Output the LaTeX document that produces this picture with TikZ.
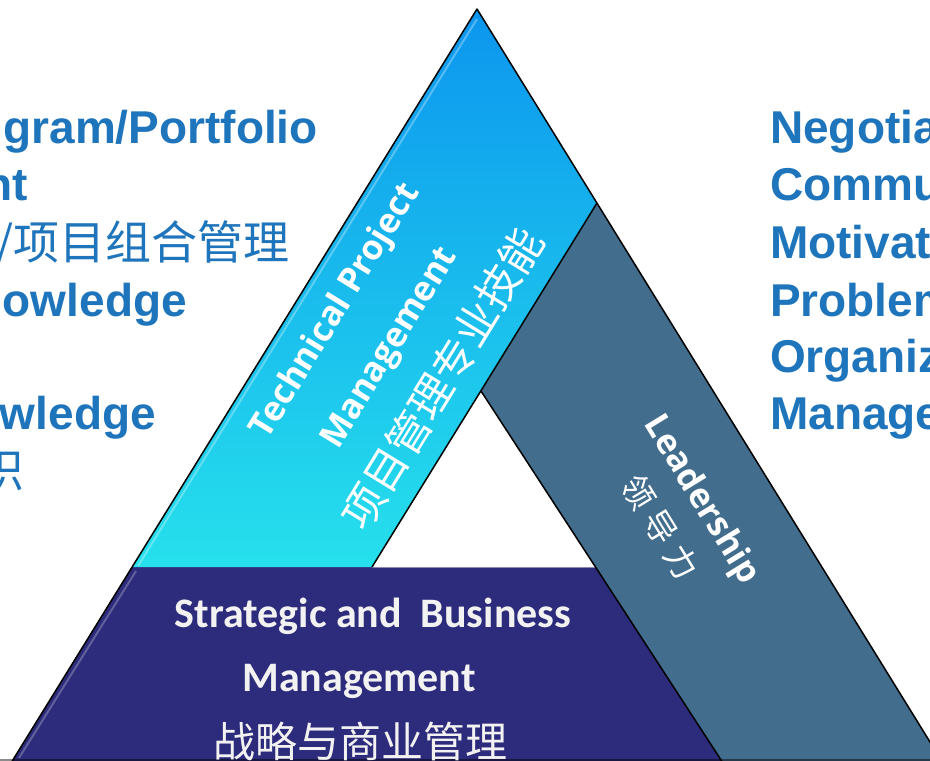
\documentclass[tikz,border=0pt]{standalone}
\usepackage{fontspec}
\newfontfamily\arialf{Liberation Sans}
\newfontfamily\osans{Open Sans}
\newfontfamily\calib{Carlito}
\newfontfamily\cjk{Noto Sans CJK SC}
\definecolor{pmblue}{RGB}{30,117,188}
\definecolor{navyband}{RGB}{45,43,123}
\definecolor{tealband}{RGB}{66,109,141}
\definecolor{cyantop}{RGB}{12,150,238}
\definecolor{cyanbot}{RGB}{38,224,236}
\definecolor{offwhite}{RGB}{242,242,242}
\begin{document}
\begin{tikzpicture}[x=1pt,y=-1pt,
  sidetext/.style={text=pmblue,inner sep=0pt,anchor=base east,font=\arialf\bfseries\fontsize{46}{50}\selectfont},
  sidetextw/.style={text=pmblue,inner sep=0pt,anchor=base west,font=\arialf\bfseries\fontsize{46}{50}\selectfont},
  sidecjk/.style={text=pmblue,inner sep=0pt,anchor=base east,font=\cjk\fontsize{46}{50}\selectfont},
  bandtext/.style={text=white,inner sep=0pt,anchor=base,font=\osans\bfseries\fontsize{34.5}{40}\selectfont},
  bandcjk/.style={text=white,inner sep=0pt,anchor=base,font=\cjk\fontsize{43}{48}\selectfont},
  leadcjk/.style={text=white,inner sep=0pt,anchor=base,font=\cjk\fontsize{33}{36}\selectfont},
  bottext/.style={text=offwhite,inner sep=0pt,anchor=base,font=\calib\bfseries\fontsize{42}{46}\selectfont},
  botcjk/.style={text=offwhite,inner sep=0pt,anchor=base,font=\cjk\fontsize{42}{46}\selectfont},
  edgeline/.style={draw=black,line width=1.5pt,line join=round}]
\useasboundingbox (0,0) rectangle (930,761);
\clip (0,0) rectangle (930,761);
\fill[white] (0,0) rectangle (930,761);
% key points
\coordinate (A) at (477,9);
\coordinate (R1) at (597,203);
\coordinate (L1) at (132,567);
\coordinate (I) at (481,391);
\coordinate (N1) at (372,567);
\coordinate (N2) at (595.5,567);
\coordinate (BL) at (11,763);
\coordinate (BR) at (943,763);
\coordinate (T2) at (723,763);
% bands
\fill[navyband] (L1) -- (N2) -- (T2) -- (BL) -- cycle;
\shade[top color=cyantop,bottom color=cyanbot] (A) -- (R1) -- (N1) -- (L1) -- cycle;
\fill[tealband] (R1) -- (BR) -- (T2) -- (I) -- cycle;
% bevel highlights
\draw[white,opacity=0.3,line width=2pt] (477,19) -- (138,566);
\draw[white,opacity=0.25,line width=2pt] (136,571) -- (19,758);
\draw[navyband!55!white,line width=0.8pt] (N1) -- (N2);
\draw[black,opacity=0.45,line width=3pt] (0,760) -- (930,760);
% outlines
\draw[edgeline] (BL) -- (A) -- (BR);
\draw[edgeline] (R1) -- (N1);
\draw[edgeline] (I) -- (T2);
% band labels
\node[bandtext,rotate=58.5] (tpm1) at (344,316) {Technical Project};
\node[bandtext,rotate=58.5] (tpm2) at (398,353) {Management};
\node[bandcjk,rotate=58.5] (tpm3) at (456,387) {项目管理专业技能};
\node[bandtext,rotate=-58.5] (lead1) at (693,505) {Leadership};
\node[leadcjk,rotate=-58.5] (lead2) at (650,534) {领\hspace{8pt}导\hspace{8pt}力};
\node[bottext] (sbm1) at (373,627) {Strategic and\ \ Business};
\node[bottext] (sbm2) at (359,691) {Management};
\node[botcjk] (sbm3) at (360,757) {战略与商业管理};
% left text (cut by frame)
\node[sidetext] (l1) at (318,143) {gram/Portfolio};
\node[sidetext] (l2) at (28,200) {nt};
\node[sidecjk] (l3) at (290,259) {/项目组合管理};
\node[sidetext] (l4) at (187,316) {owledge};
\node[sidetext] (l5) at (156,429) {wledge};
\node[sidecjk] (l6) at (25,487) {识};
% right text (cut by frame)
\node[sidetextw] (r1) at (770,143) {Negotia};
\node[sidetextw] (r2) at (770,200) {Commu};
\node[sidetextw] (r3) at (770,258) {Motivat};
\node[sidetextw] (r4) at (770,316) {Problem};
\node[sidetextw] (r5) at (770,372) {Organiz};
\node[sidetextw] (r6) at (770,429) {Manage};
\end{tikzpicture}
\end{document}
